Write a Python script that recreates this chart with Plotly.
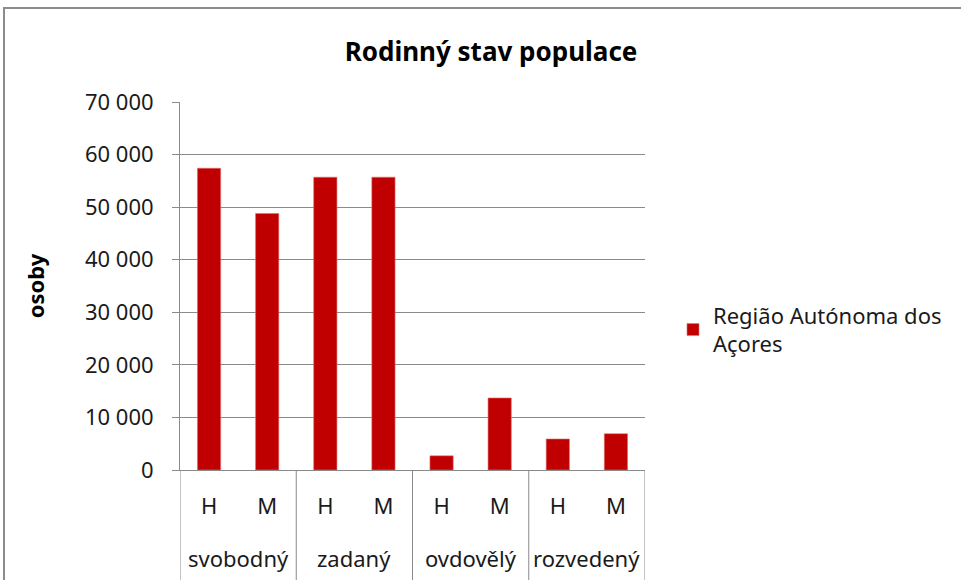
import plotly.graph_objects as go

categories = ["svobodný", "svobodný", "zadaný", "zadaný", "ovdovělý", "ovdovělý", "rozvedený", "rozvedený"]
sexes = ["H", "M", "H", "M", "H", "M", "H", "M"]
values = [57400, 48800, 55700, 55700, 2700, 13700, 5900, 6900]
series_name = "Região Autónoma dos<br>Açores"
title = "Rodinný stav populace"
y_title = "osoby"

FONT = "Noto Sans, Carlito, sans-serif"
GREY = "#8a8a8a"
TXT = "#1a1a1a"
FS = 22

# plot area in page pixels: x 180..645, y 102..470
W, H = 961, 580
L, R, T, B = 180, 645, 102, 470
pw, ph = R - L, B - T

pos = list(range(len(values)))

fig = go.Figure()
fig.add_trace(go.Bar(
    x=pos, y=values, name=series_name,
    marker=dict(color="#C00000", line=dict(color="#E07070", width=0.6)),
    showlegend=True,
))

shapes = []
annotations = []
# group dividers and labels, derived from the category list
groups = []
for i, c in enumerate(categories):
    if not groups or groups[-1][0] != c:
        groups.append([c, i, i])
    else:
        groups[-1][2] = i
bounds = sorted({g[1] - 0.5 for g in groups} | {g[2] + 0.5 for g in groups})
for b in bounds:
    shapes.append(dict(type="line", xref="x", yref="paper", x0=b, x1=b,
                       y0=0, y1=-(H - B) / ph, line=dict(color=GREY, width=1)))
for c, i0, i1 in groups:
    annotations.append(dict(text=c, xref="x", yref="paper", x=(i0 + i1) / 2,
                            y=-88 / ph, yanchor="middle", showarrow=False,
                            font=dict(family=FONT, size=FS, color=TXT)))

# chart border
shapes.append(dict(type="rect", xref="paper", yref="paper",
                   x0=(4 - L) / pw, x1=(966 - L) / pw, y0=(B - 590) / ph, y1=(B - 8) / ph,
                   line=dict(color="#8c8c8c", width=2), fillcolor="rgba(0,0,0,0)", layer="below"))

fig.update_layout(
    width=W, height=H,
    margin=dict(l=L, r=W - R, t=T, b=H - B),
    paper_bgcolor="white", plot_bgcolor="white",
    font=dict(family=FONT, size=FS, color=TXT),
    separators=", ",
    bargap=0.6,
    showlegend=True,
    title=dict(text="<b>" + title + "</b>", x=(491 - L) / pw, xref="paper", xanchor="center",
               y=1 - 52 / H, yanchor="middle",
               font=dict(family=FONT, size=26, color="#000000")),
    legend=dict(x=(673 - L) / pw, y=(B - 330) / ph, xanchor="left", yanchor="middle",
                font=dict(family=FONT, size=FS, color=TXT),
                itemwidth=30, bgcolor="rgba(0,0,0,0)"),
    xaxis=dict(range=[-0.5, len(values) - 0.5], tickmode="array", tickvals=pos, ticktext=sexes,
               showline=True, linecolor=GREY, linewidth=1, ticks="", showgrid=False,
               zeroline=False, ticklabelstandoff=17,
               tickfont=dict(family=FONT, size=FS, color=TXT)),
    yaxis=dict(range=[0, 70000], dtick=10000, tickformat=",d", showgrid=True,
               gridcolor=GREY, gridwidth=1, showline=True, linecolor=GREY,
               ticks="outside", ticklen=7, tickcolor=GREY, zeroline=False,
               ticklabelstandoff=14,
               tickfont=dict(family=FONT, size=FS, color=TXT),
               title=dict(text="<b>" + y_title + "</b>", standoff=34,
                          font=dict(family=FONT, size=FS, color="#000000"))),
    shapes=shapes,
    annotations=annotations,
)

fig.write_html("out.html", config={"displayModeBar": False},
               post_script="document.body.style.margin='0px';")
